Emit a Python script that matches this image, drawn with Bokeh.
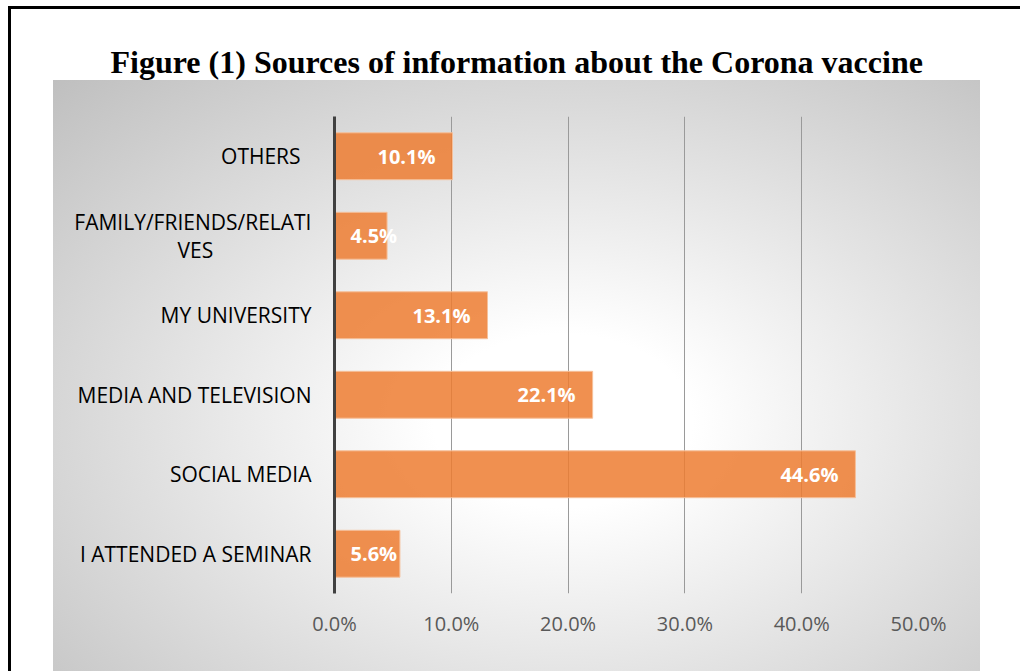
from bokeh.plotting import figure
from bokeh.models import Range1d, FactorRange, FixedTicker, ColumnDataSource
from bokeh.core.properties import value
from bokeh.embed import file_html
from bokeh.resources import INLINE

# ---- data (top to bottom as shown) ----
categories = ["OTHERS  ", "FAMILY/FRIENDS/RELATI\nVES" + "\u00a0" * 18, "MY UNIVERSITY",
              "MEDIA AND TELEVISION", "SOCIAL MEDIA", "I ATTENDED A SEMINAR"]
percent = [10.1, 4.5, 13.1, 22.1, 44.6, 5.6]
tick_values = [0, 10, 20, 30, 40, 50]
tick_labels = ["0.0%", "10.0%", "20.0%", "30.0%", "40.0%", "50.0%"]
title_text = "Figure (1) Sources of information about the Corona vaccine"

FONT = "Open Sans"

factors = list(reversed(categories))
p = figure(width=1020, height=671,
           y_range=FactorRange(*factors), x_range=Range1d(0, 50),
           output_backend="svg", toolbar_location=None,
           min_border_left=334, min_border_right=102,
           min_border_top=116, min_border_bottom=78,
           background_fill_color=None, border_fill_color=None,
           outline_line_color=None)

css = """
:host {
  background:
    linear-gradient(#000000, #000000) 8px 6px / 100% 3px no-repeat,
    linear-gradient(#000000, #000000) 8px 6px / 3px 100% no-repeat,
    radial-gradient(ellipse farthest-corner at 55% 55%, #ffffff 0%, #ffffff 18%, #bfbfbf 100%) 53px 80px / 927px 620px no-repeat,
    #ffffff;
}
"""
p.stylesheets = [css]

p.title.text = title_text
p.title.align = "left"
p.title.offset = -224
p.title.standoff = 74
p.title.text_font = "Liberation Serif"
p.title.text_font_style = "bold"
p.title.text_font_size = "32px"
p.title.text_color = "#000000"

src = ColumnDataSource(dict(
    cat=categories,
    val=percent,
    lab=[f"{v:.1f}%" for v in percent],
    lx=[v if v >= 8 else 0 for v in percent],
    align=["right" if v >= 8 else "left" for v in percent],
    off=[-17 if v >= 8 else 16 for v in percent],
))

p.hbar(y="cat", right="val", left=0, height=0.59, source=src,
       fill_color="#ED7D31", fill_alpha=0.85,
       line_color="#F6C09A", line_width=1)

p.text(x="lx", y="cat", text="lab", source=src, x_offset="off",
       text_align="align", text_baseline="middle",
       text_font=value(FONT), text_font_style="bold",
       text_font_size="20px", text_color="#ffffff")

# axes
xa = p.xaxis[0]
xa.ticker = FixedTicker(ticks=tick_values)
xa.major_label_overrides = {v: l for v, l in zip(tick_values, tick_labels)}
xa.axis_line_color = None
xa.major_tick_line_color = None
xa.minor_tick_line_color = None
xa.major_label_standoff = 10
xa.major_label_text_font = FONT
xa.major_label_text_font_size = "20px"
xa.major_label_text_color = "#595959"

ya = p.yaxis[0]
ya.axis_line_color = "#404040"
ya.axis_line_width = 3
ya.major_tick_line_color = None
ya.minor_tick_line_color = None
ya.major_label_standoff = 17
ya.major_label_text_font = FONT
ya.major_label_text_font_size = "21px"
ya.major_label_text_line_height = 1.0
ya.major_label_text_color = "#000000"

p.xgrid.ticker = FixedTicker(ticks=tick_values[1:])
p.xgrid.grid_line_color = "#9a9a9a"
p.xgrid.grid_line_width = 1
p.ygrid.grid_line_color = None

open("out.html", "w").write(file_html(p, INLINE))
